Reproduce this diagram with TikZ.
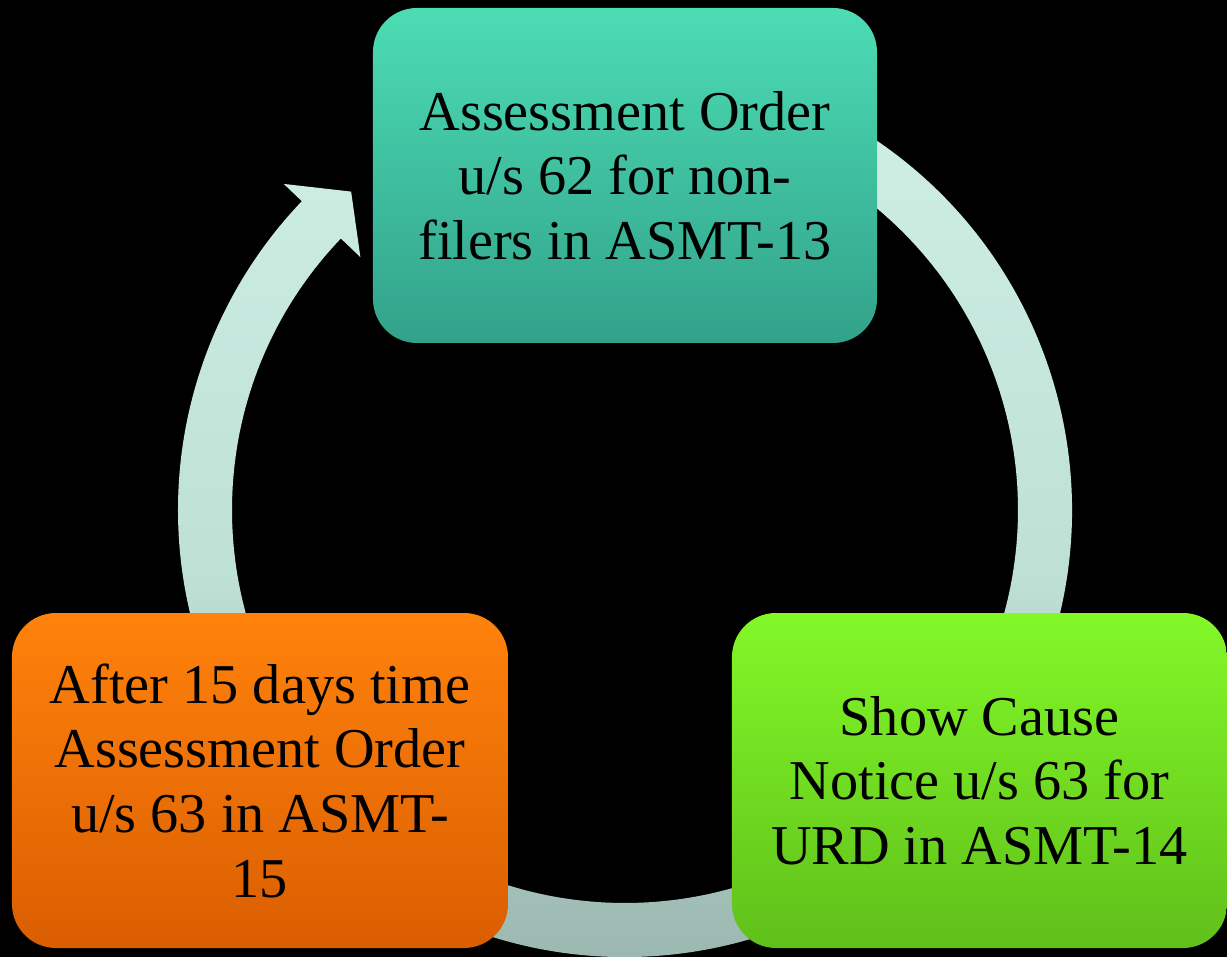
\documentclass[tikz,border=0pt]{standalone}
\usepackage{fontspec}
\setmainfont{Liberation Serif}

\definecolor{ringtop}{RGB}{206,238,228}
\definecolor{ringmid}{RGB}{190,224,213}
\definecolor{ringbot}{RGB}{150,178,171}
\definecolor{tealtop}{RGB}{76,220,180}
\definecolor{tealbot}{RGB}{50,162,138}
\definecolor{limetop}{RGB}{130,248,40}
\definecolor{limebot}{RGB}{96,192,26}
\definecolor{orangetop}{RGB}{255,130,12}
\definecolor{orangebot}{RGB}{218,94,0}

\begin{document}
\begin{tikzpicture}[
  stagebox/.style={rounded corners=1.1cm, minimum height=8.375cm, align=center,
    inner sep=0pt, text=black, font=\fontsize{40}{46}\selectfont},
]
  % background
  \fill[black] (-15.625,-11.175) rectangle (15.05,12.75);
  \useasboundingbox (-15.625,-11.175) rectangle (15.05,12.75);

  % circular arrow
  \shade[top color=ringtop, bottom color=ringbot, middle color=ringmid]
    (60:11.175) arc[start angle=60, end angle=-223.7, radius=11.175]
    -- (136.3:11.8) -- (130.7:10.5) -- (136.3:9.15) -- (136.3:9.825)
    arc[start angle=-223.7, end angle=60, radius=9.825] -- cycle;

  % stages
  \node[stagebox, minimum width=12.6cm, top color=tealtop, bottom color=tealbot]
    (order62) at (0,8.3625) {Assessment Order\\u/s 62 for non-\\filers in ASMT-13};
  \node[stagebox, minimum width=12.375cm, top color=limetop, bottom color=limebot]
    (notice63) at (8.8625,-6.7625) {Show Cause\\Notice u/s 63 for\\URD in ASMT-14};
  \node[stagebox, minimum width=12.4cm, top color=orangetop, bottom color=orangebot]
    (order63) at (-9.125,-6.7625) {After 15 days time\\Assessment Order\\u/s 63 in ASMT-\\15};
\end{tikzpicture}
\end{document}
